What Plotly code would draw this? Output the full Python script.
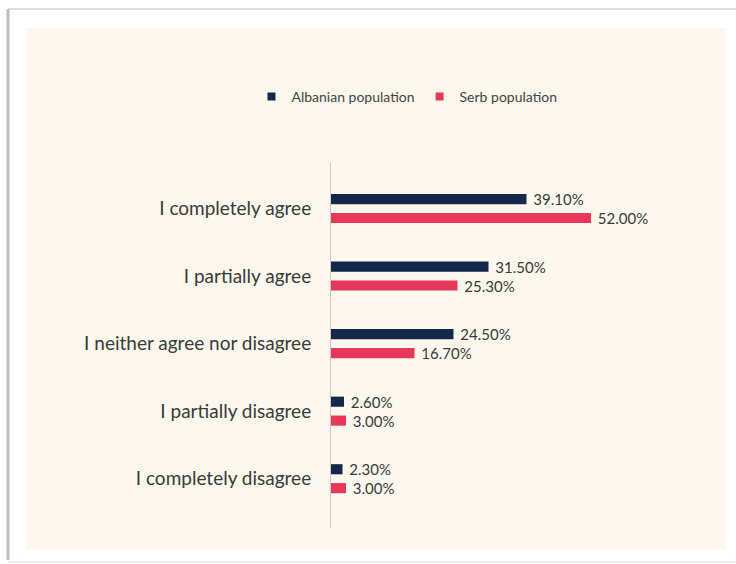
import plotly.graph_objects as go

# Survey answers and shares (%) for each population group
categories = [
    "I completely agree",
    "I partially agree",
    "I neither agree nor disagree",
    "I partially disagree",
    "I completely disagree",
]
albanian = [39.10, 31.50, 24.50, 2.60, 2.30]
serb = [52.00, 25.30, 16.70, 3.00, 3.00]

NAVY = "#14294A"
RED = "#E7385A"
CREAM = "#FCF8EE"
FONT = "Lato, 'Open Sans', sans-serif"

W, H = 736, 564
ML, MR, MT, MB = 331, 20, 163, 36
PW, PH = W - ML - MR, H - MT - MB


def px_x(x):
    return (x - ML) / PW


def px_y(y):
    return (H - MB - y) / PH


pos = list(range(len(categories)))


def labels(vals):
    return [f" {v:.2f}%" for v in vals]


fig = go.Figure()
fig.add_trace(go.Bar(
    y=pos, x=albanian, orientation="h", name="Albanian population",
    marker=dict(color=NAVY, line=dict(width=0)),
    width=0.15, offset=-0.215,
    text=labels(albanian), textposition="outside", constraintext="none",
    textfont=dict(size=15, color="#3a3a3a", family=FONT),
    cliponaxis=False, showlegend=False,
))
fig.add_trace(go.Bar(
    y=pos, x=serb, orientation="h", name="Serb population",
    marker=dict(color=RED, line=dict(width=0)),
    width=0.15, offset=0.065,
    text=labels(serb), textposition="outside", constraintext="none",
    textfont=dict(size=15, color="#3a3a3a", family=FONT),
    cliponaxis=False, showlegend=False,
))
# legend entries with small square keys
for name, col in [("Albanian population", NAVY), ("Serb population", RED)]:
    fig.add_trace(go.Scatter(
        x=[None], y=[None], mode="markers", name=name,
        marker=dict(symbol="square", size=8, color=col),
    ))

shapes = [
    # cream panel
    dict(type="rect", xref="paper", yref="paper", layer="below",
         x0=px_x(26), x1=px_x(726), y0=px_y(549), y1=px_y(28),
         fillcolor=CREAM, line=dict(width=0)),
    # outer frame edges
    dict(type="line", xref="paper", yref="paper", layer="below",
         x0=px_x(8), x1=px_x(740), y0=px_y(9), y1=px_y(9),
         line=dict(color="#dedede", width=2)),
    dict(type="line", xref="paper", yref="paper", layer="below",
         x0=px_x(8), x1=px_x(8), y0=px_y(9), y1=px_y(560),
         line=dict(color="#bdbdbd", width=3)),
    dict(type="line", xref="paper", yref="paper", layer="below",
         x0=px_x(8), x1=px_x(740), y0=px_y(562), y1=px_y(562),
         line=dict(color="#ececec", width=2)),
]

fig.update_layout(
    width=W, height=H,
    margin=dict(l=ML, r=MR, t=MT, b=MB, pad=0),
    paper_bgcolor="white", plot_bgcolor="rgba(0,0,0,0)",
    barmode="group",
    font=dict(family=FONT, color="#3a3a3a"),
    shapes=shapes,
    showlegend=True,
    legend=dict(
        orientation="h", xref="container", yref="container",
        x=0.553, y=1 - 97 / H, xanchor="center", yanchor="middle",
        font=dict(size=14, color="#444444", family=FONT),
        bgcolor="rgba(0,0,0,0)", itemwidth=30,
    ),
    xaxis=dict(range=[0, PW / 5.0], visible=False, fixedrange=True),
    yaxis=dict(
        tickmode="array", tickvals=pos, ticktext=categories,
        range=[4.73, -0.674], showgrid=False, zeroline=False,
        showline=True, linecolor="#c9c9c9", linewidth=1,
        ticks="", ticklabelstandoff=15,
        tickfont=dict(size=19, color="#3a3a3a", family=FONT),
    ),
)

fig.write_html("out.html")
